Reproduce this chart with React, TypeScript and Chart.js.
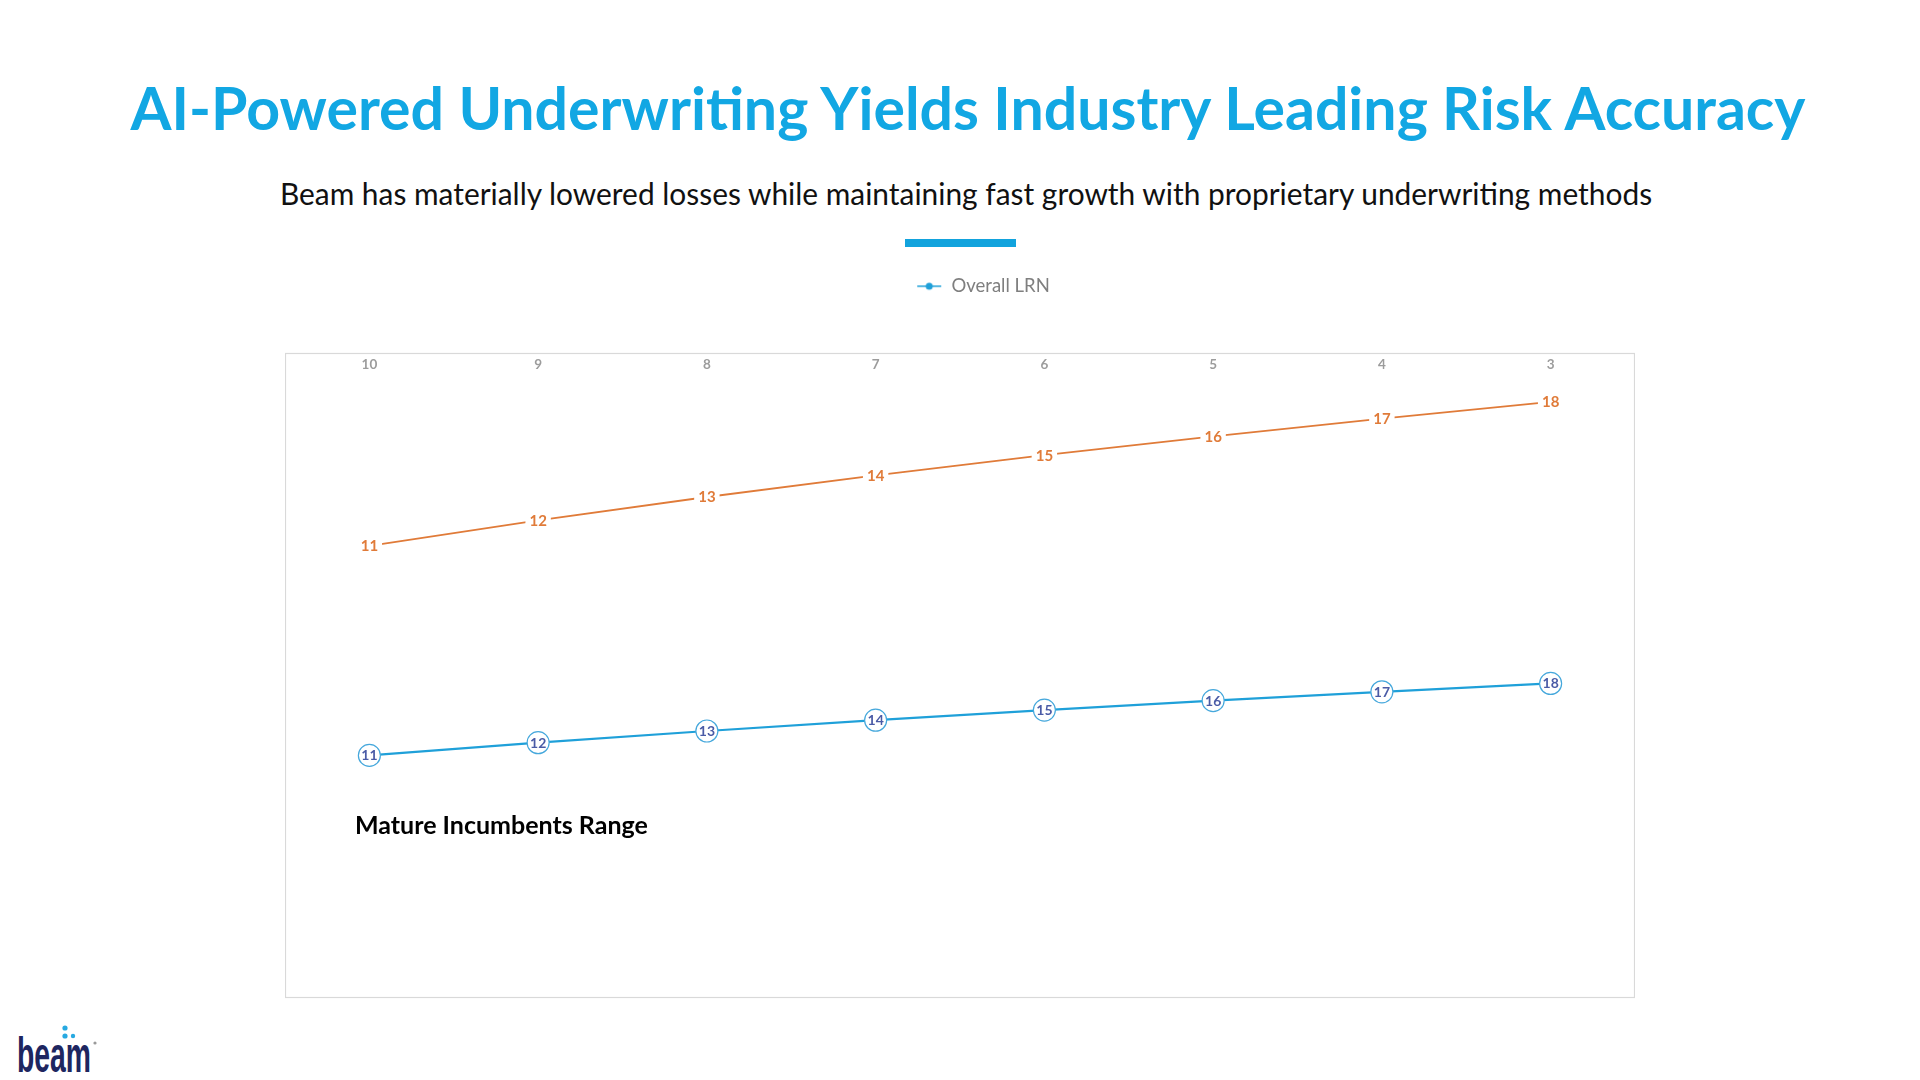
import React, { useEffect, useRef } from "react";
import { Chart, registerables } from "chart.js";

Chart.register(...registerables);

// ---- data ----
const categories = ["10", "9", "8", "7", "6", "5", "4", "3"];
const incumbentValues = [11, 12, 13, 14, 15, 16, 17, 18];
const overallLrnValues = [11, 12, 13, 14, 15, 16, 17, 18];
const seriesNames = ["Mature Incumbents", "Overall LRN"];

const TITLE = "AI-Powered Underwriting Yields Industry Leading Risk Accuracy";
const SUBTITLE =
  "Beam has materially lowered losses while maintaining fast growth with proprietary underwriting methods";
const ANNOTATION = "Mature Incumbents Range";

const ORANGE = "#E07B39";
const BLUE = "#1FA0D9";
const TITLE_BLUE = "#12A7E3";
const FONT = "Lato, 'Open Sans', sans-serif";

function makeLegendIcon(): HTMLCanvasElement {
  const c = document.createElement("canvas");
  c.width = 26;
  c.height = 10;
  const g = c.getContext("2d")!;
  g.strokeStyle = BLUE;
  g.lineWidth = 1.5;
  g.beginPath();
  g.moveTo(1, 5);
  g.lineTo(25, 5);
  g.stroke();
  g.fillStyle = BLUE;
  g.beginPath();
  g.arc(13, 5, 3.5, 0, Math.PI * 2);
  g.fill();
  return c;
}

const framePlugin = {
  id: "frame",
  afterLayout(chart: any) {
    // nudge legend to the right like the original slide
    if (chart.legend) {
      chart.legend.left += 23;
      chart.legend.right += 23;
    }
  },
  beforeDraw(chart: any) {
    const ctx = chart.ctx;
    const xs = chart.scales.x;
    const { left, right, bottom } = chart.chartArea;
    const top = Math.round(xs.bottom) - 24.5;
    ctx.save();
    ctx.strokeStyle = "#D9D9D9";
    ctx.lineWidth = 1.2;
    ctx.strokeRect(left + 0.5, top, right - left - 1, bottom - top - 0.5);
    ctx.restore();
  },
};

const pointLabelPlugin = {
  id: "pointLabels",
  afterDatasetsDraw(chart: any) {
    const ctx = chart.ctx;
    chart.data.datasets.forEach((ds: any, i: number) => {
      const meta = chart.getDatasetMeta(i);
      meta.data.forEach((pt: any, j: number) => {
        const text = String(ds.data[j]);
        ctx.save();
        ctx.textAlign = "center";
        ctx.textBaseline = "middle";
        if (i === 0) {
          ctx.font = `bold 15px ${FONT}`;
          const w = ctx.measureText(text).width;
          ctx.fillStyle = "#FFFFFF";
          ctx.fillRect(pt.x - w / 2 - 4, pt.y - 8, w + 8, 16);
          ctx.fillStyle = ORANGE;
        } else {
          ctx.font = `bold 14px ${FONT}`;
          ctx.fillStyle = "#4A5BA6";
        }
        ctx.fillText(text, pt.x, pt.y + 0.5);
        ctx.restore();
      });
    });
  },
};

function LineChart() {
  const ref = useRef<HTMLCanvasElement | null>(null);
  useEffect(() => {
    if (!ref.current) return;
    const icon = makeLegendIcon();
    const chart = new Chart(ref.current, {
      type: "line",
      data: {
        labels: categories,
        datasets: [
          {
            label: seriesNames[0],
            data: incumbentValues,
            yAxisID: "yO",
            borderColor: ORANGE,
            borderWidth: 1.8,
            pointRadius: 0,
            pointHoverRadius: 0,
            tension: 0,
          },
          {
            label: seriesNames[1],
            data: overallLrnValues,
            yAxisID: "yB",
            borderColor: BLUE,
            borderWidth: 2.2,
            pointRadius: 11,
            pointHoverRadius: 11,
            pointBorderWidth: 1.2,
            pointBorderColor: "#46A8DC",
            pointBackgroundColor: "#FFFFFF",
            tension: 0,
          },
        ],
      },
      options: {
        animation: false,
        responsive: true,
        maintainAspectRatio: false,
        layout: { autoPadding: false, padding: { top: 0, bottom: 1, left: 0, right: 0 } },
        plugins: {
          tooltip: { enabled: false },
          legend: {
            display: true,
            position: "top",
            labels: {
              usePointStyle: true,
              pointStyleWidth: 26,
              padding: 10,
              color: "#7F7F7F",
              font: { family: FONT, size: 18.5 },
              generateLabels: (c: any) => {
                const items = Chart.defaults.plugins.legend.labels.generateLabels(c);
                return items
                  .filter((it: any) => it.datasetIndex === 1)
                  .map((it: any) => ({ ...it, pointStyle: icon, fontColor: "#7F7F7F" }));
              },
            },
          },
        },
        scales: {
          x: {
            position: "top",
            offset: true,
            grid: { display: false, drawTicks: false },
            border: { display: false },
            ticks: {
              color: "#9C9C9C",
              font: { family: FONT, size: 13.5, weight: "bold" },
              padding: 5,
            },
            afterFit: (scale: any) => {
              scale.height += 46;
            },
          },
          yO: {
            type: "logarithmic",
            display: false,
            min: 2.338,
            max: 19.56,
          },
          yB: {
            type: "logarithmic",
            display: false,
            min: 2.091,
            max: 145.9,
          },
        },
      } as any,
      plugins: [framePlugin, pointLabelPlugin],
    });
    return () => chart.destroy();
  }, []);
  return <canvas ref={ref} />;
}

function BeamLogo() {
  return (
    <svg width="100" height="60" viewBox="0 0 100 60" style={{ position: "absolute", left: 12, top: 1018 }}>
      <circle cx="53" cy="10" r="2.6" fill="#27A9E1" />
      <circle cx="53" cy="18" r="2.6" fill="#27A9E1" />
      <circle cx="61" cy="18" r="2.2" fill="#27A9E1" />
      <text
        x="5"
        y="54"
        fontFamily="'Liberation Sans Narrow', 'Liberation Sans', sans-serif"
        fontSize="50"
        fontWeight="bold"
        fill="#1E2660"
        textLength="74"
        lengthAdjust="spacingAndGlyphs"
      >
        beam
      </text>
      <circle cx="83" cy="25" r="1.6" fill="#9A9A9A" />
    </svg>
  );
}

export default function App() {
  return (
    <div
      style={{
        position: "fixed",
        left: 0,
        top: 0,
        width: 1920,
        height: 1080,
        background: "#FFFFFF",
        overflow: "hidden",
      }}
    >
      <div
        style={{
          position: "absolute",
          left: 8,
          width: 1920,
          top: 70,
          textAlign: "center",
          fontFamily: FONT,
          fontWeight: 700,
          fontSize: 59,
          lineHeight: "76px",
          color: TITLE_BLUE,
          whiteSpace: "nowrap",
        }}
      >
        {TITLE}
      </div>
      <div
        style={{
          position: "absolute",
          left: 6,
          width: 1920,
          top: 175,
          textAlign: "center",
          fontFamily: FONT,
          fontSize: 29.9,
          lineHeight: "36px",
          color: "#111111",
          whiteSpace: "nowrap",
        }}
      >
        {SUBTITLE}
      </div>
      <div
        style={{
          position: "absolute",
          left: 905,
          top: 239,
          width: 111,
          height: 8,
          background: "#12A3DD",
        }}
      />
      <div style={{ position: "absolute", left: 285, top: 267, width: 1350, height: 732 }}>
        <LineChart />
      </div>
      <div
        style={{
          position: "absolute",
          left: 355,
          top: 809,
          fontFamily: FONT,
          fontWeight: 700,
          fontSize: 25,
          lineHeight: "30px",
          color: "#000000",
          whiteSpace: "nowrap",
        }}
      >
        {ANNOTATION}
      </div>
      <BeamLogo />
    </div>
  );
}
